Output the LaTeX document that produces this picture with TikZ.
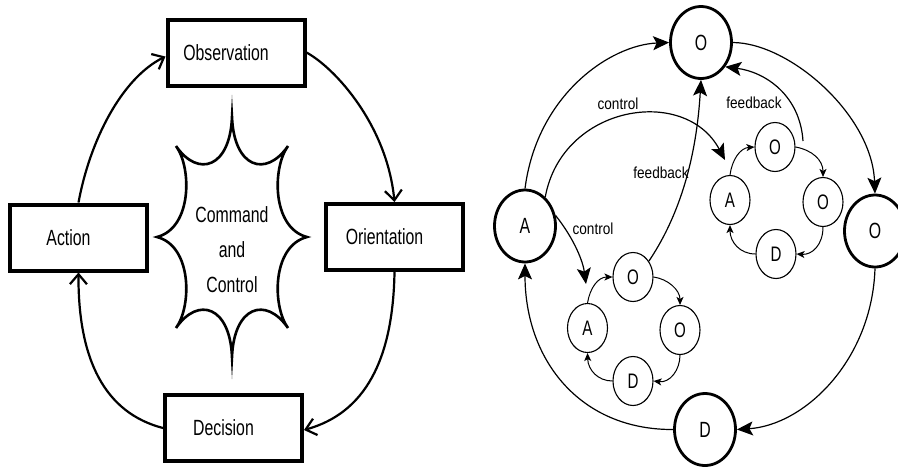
\documentclass[tikz,border=0pt]{standalone}
\usepackage{fontspec}
\setmainfont{Liberation Sans}
\newfontfamily\boxfnt[FakeStretch=0.72]{Liberation Sans}
\newfontfamily\lblfnt[FakeStretch=0.85]{Liberation Sans}
\usetikzlibrary{arrows.meta,shapes.geometric}
\newcommand\bxt[1]{#1\hspace*{20pt}}
\begin{document}
\begin{tikzpicture}[x=1pt,y=-1pt,
  box/.style={draw, line width=4pt, minimum width=137pt, minimum height=66pt, inner sep=0pt,
    font=\boxfnt\fontsize{22}{26}\selectfont},
  bigc/.style={ellipse, draw, line width=2.8pt, minimum width=61pt, minimum height=72pt, inner sep=0pt,
    font=\boxfnt\fontsize{22}{26}\selectfont},
  smlc/.style={ellipse, draw, line width=1.1pt, minimum width=40pt, minimum height=49pt, inner sep=0pt,
    font=\boxfnt\fontsize{21}{26}\selectfont},
  lbl/.style={inner sep=0pt, font=\lblfnt\fontsize{16}{18}\selectfont},
  lft/.style={line width=2.2pt, -{Straight Barb[length=10pt,width=17pt]}},
  bigarr/.style={line width=1.2pt, -{Stealth[length=16pt,width=14pt,inset=3.5pt]}},
  smlarr/.style={line width=1pt, -{Stealth[length=8pt,width=7pt,inset=2pt]}}
]
\useasboundingbox (0,0) rectangle (898,467);

% ---------- left diagram ----------
\node[box] (obs) at (236,52.5) {\bxt{Observation}};
\node[box] (act) at (78.5,237.5) {\bxt{Action}};
\node[box] (ori) at (394.5,237) {\bxt{Orientation}};
\node[box] (dec) at (233.5,428) {\bxt{Decision}};

\begin{scope}[shift={(232,237)}]
\draw[line width=2.6pt, line join=miter, miter limit=25]
  (0,-120) .. controls (2,-69) and (34,-59) .. (56,-91)
           .. controls (40,-69) and (40,-9) .. (75,0)
           .. controls (40,9) and (40,69) .. (56,91)
           .. controls (34,59) and (2,69) .. (0,120)
           .. controls (-2,69) and (-34,59) .. (-56,91)
           .. controls (-40,69) and (-40,9) .. (-75,0)
           .. controls (-40,-9) and (-40,-69) .. (-56,-91)
           .. controls (-34,-59) and (-2,-69) .. cycle;
\end{scope}
\node[align=center, inner sep=0pt, font=\boxfnt\fontsize{22}{35}\selectfont] (cc) at (232,250) {Command\\and\\Control};

\draw[lft] (act.north) .. controls (90,140) and (122,78) .. ([yshift=-4pt]obs.west);
\draw[lft] (obs.east) .. controls (335,68) and (387,125) .. (ori.north);
\draw[lft] (ori.south) .. controls (393,360) and (365,413) .. ([yshift=-2pt]dec.east);
\draw[lft] (dec.west) .. controls (105,413) and (78,360) .. (act.south);

% ---------- right diagram ----------
\node[bigc] (bigO) at (701,42.5) {O};
\node[bigc] (bigA) at (525,226) {A};
\node[bigc] (bigOr) at (875,231) {O};
\node[bigc] (bigD) at (705,429.5) {D};

\node[smlc] (uO) at (775,147) {O};
\node[smlc] (uA) at (730,200) {A};
\node[smlc] (uOr) at (823,202) {O};
\node[smlc] (uD) at (776,254) {D};

\node[smlc] (lO) at (633,277) {O};
\node[smlc] (lA) at (587.5,328) {A};
\node[smlc] (lOr) at (680,330) {O};
\node[smlc] (lD) at (633,381) {D};

\coordinate (ctlA) at (725,160);
\coordinate (ctlB) at (586,284);
\coordinate (fbS) at (803,141);

\draw[bigarr] (bigA.north) .. controls (537,95) and (610,45) .. (bigO.west);
\draw[bigarr] (bigO.east) .. controls (790,43) and (872,115) .. (bigOr.north);
\draw[bigarr] (bigOr.south) .. controls (872,360) and (805,425) .. (bigD.east);
\draw[bigarr] (bigD.west) .. controls (580,430) and (525,360) .. (bigA.south);

\draw[bigarr] (bigA.55) .. controls (562,105) and (685,85) .. (ctlA);
\draw[bigarr] (bigA.19) .. controls (575,240) and (583,262) .. (ctlB);
\draw[bigarr] (lO.45) .. controls (690,200) and (698,130) .. (bigO.south);
\draw[bigarr] (fbS) .. controls (800,95) and (765,72) .. (bigO.-45);

\node[lbl] (lc1) at (618,104) {control};
\node[lbl] (lc2) at (593,229) {control};
\node[lbl] (lf1) at (661,173) {feedback};
\node[lbl] (lf2) at (754,103) {feedback};

\draw[smlarr] (uA.north) .. controls (732,160) and (740,148) .. (uO.west);
\draw[smlarr] (uO.east) .. controls (812,150) and (823,160) .. (uOr.north);
\draw[smlarr] (uOr.south) .. controls (823,245) and (812,255) .. (uD.east);
\draw[smlarr] (uD.west) .. controls (740,254) and (730,242) .. (uA.south);

\draw[smlarr] (lA.north) .. controls (590,288) and (598,277) .. (lO.west);
\draw[smlarr] (lO.east) .. controls (668,279) and (680,290) .. (lOr.north);
\draw[smlarr] (lOr.south) .. controls (680,370) and (670,383) .. (lD.east);
\draw[smlarr] (lD.west) .. controls (598,381) and (588,370) .. (lA.south);
\end{tikzpicture}
\end{document}
